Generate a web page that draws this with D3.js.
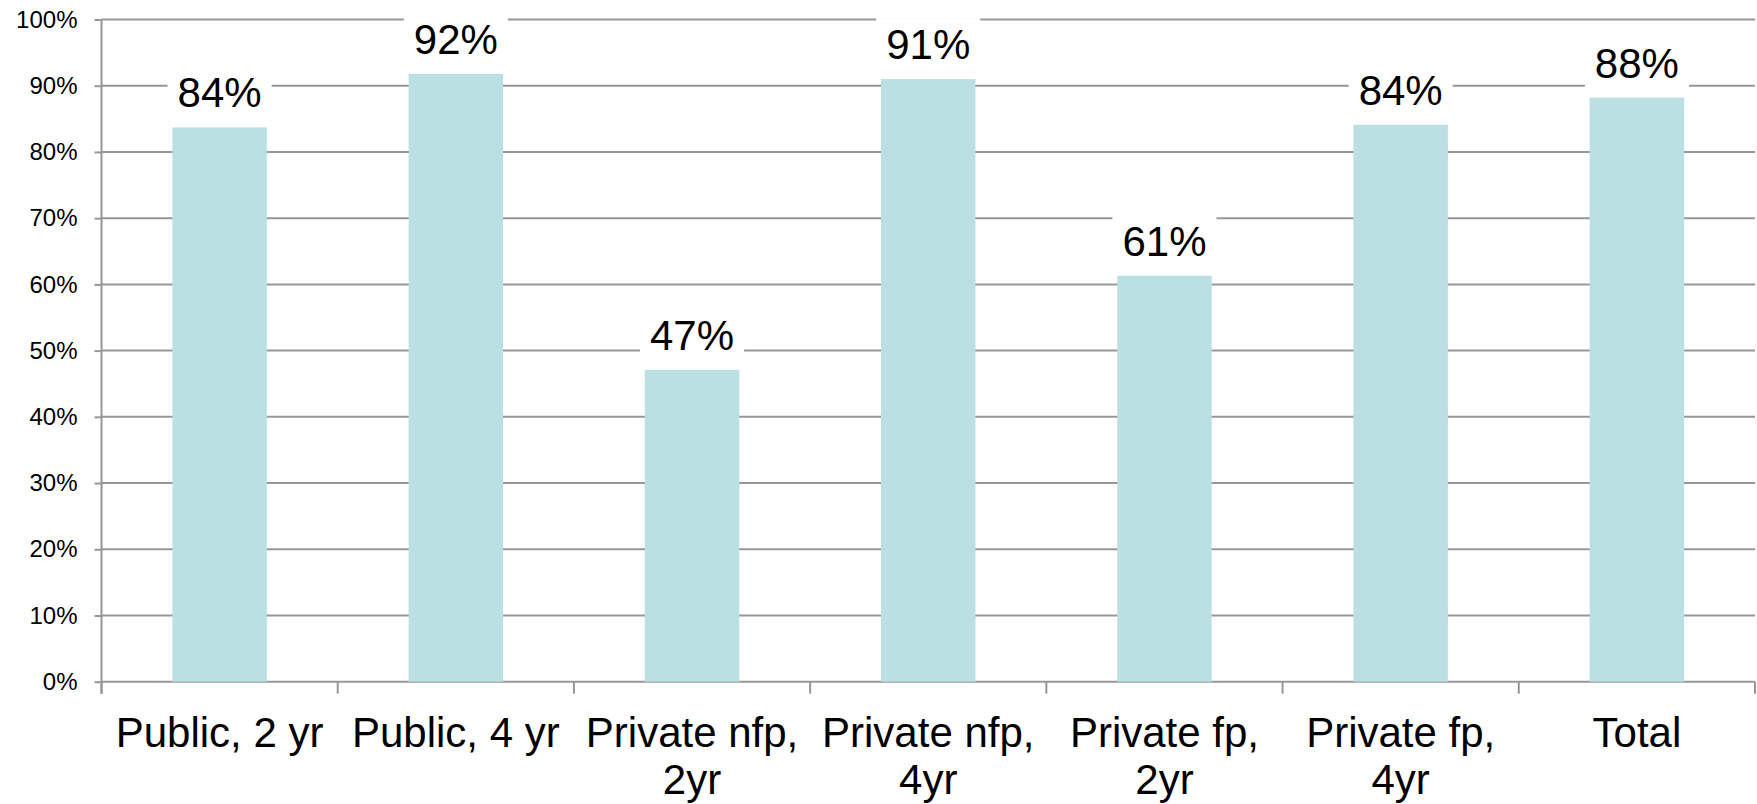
<!DOCTYPE html>
<html>
<head>
<meta charset="utf-8">
<script src="https://cdn.jsdelivr.net/npm/d3@7"></script>
<style>
  body { margin: 0; background: #fff; }
  text { font-family: "Liberation Sans", Arial, sans-serif; fill: #000; }
</style>
</head>
<body>
<script>
const categories = ['Public, 2 yr', 'Public, 4 yr', 'Private nfp, 2yr', 'Private nfp, 4yr', 'Private fp, 2yr', 'Private fp, 4yr', 'Total']
const categoryLines = [['Public, 2 yr'], ['Public, 4 yr'], ['Private nfp,', '2yr'], ['Private nfp,', '4yr'], ['Private fp,', '2yr'], ['Private fp,', '4yr'], ['Total']]
const values = [0.837, 0.918, 0.471, 0.910, 0.613, 0.841, 0.882]
const yTicks = [0, 0.1, 0.2, 0.3, 0.4, 0.5, 0.6, 0.7, 0.8, 0.9, 1.0]

const W = 1757, H = 804
const margin = { top: 19.5, right: 2, bottom: 122.3, left: 101.5 }
const width = W - margin.left - margin.right
const height = H - margin.top - margin.bottom
const gridColor = '#979797'

const svg = d3.select('body').append('svg')
    .attr('width', W)
    .attr('height', H)
    .append('g')
        .attr('transform', `translate(${margin.left}, ${margin.top})`)

const xScale = d3.scaleBand()
    .domain(categories)
    .range([0, width])
    .padding(0)

const yScale = d3.scaleLinear()
    .domain([0, 1])
    .range([height, 0])

// gridlines
svg.append('g')
    .selectAll('line')
    .data(yTicks)
    .enter().append('line')
    .attr('x1', 0)
    .attr('x2', width)
    .attr('y1', d => yScale(d))
    .attr('y2', d => yScale(d))
    .style('stroke', gridColor)
    .style('stroke-width', 2)

// y axis
const yAxis = svg.append('g')
    .attr('class', 'y axis')
    .call(d3.axisLeft(yScale)
        .tickValues(yTicks)
        .tickFormat(d3.format('.0%'))
        .tickSize(7)
        .tickSizeOuter(0)
        .tickPadding(17))
yAxis.select('.domain').remove()
yAxis.selectAll('line').style('stroke', gridColor).style('stroke-width', 2)
yAxis.selectAll('text').style('font-size', '24px').style('font-family', '"Liberation Sans", Arial, sans-serif')

svg.append('line')
    .attr('x1', 0).attr('x2', 0)
    .attr('y1', 0).attr('y2', height + 12)
    .style('stroke', gridColor)
    .style('stroke-width', 2)

// x axis ticks at category boundaries
const edges = categories.map(c => xScale(c)).concat([width])
svg.append('g')
    .selectAll('line')
    .data(edges)
    .enter().append('line')
    .attr('x1', d => d).attr('x2', d => d)
    .attr('y1', height).attr('y2', height + 12)
    .style('stroke', gridColor)
    .style('stroke-width', 2)

// bars
svg.selectAll('.bar')
    .data(values)
    .enter().append('rect')
    .attr('class', 'bar')
    .attr('x', (d, i) => xScale(categories[i]) + xScale.bandwidth() * 0.3)
    .attr('width', xScale.bandwidth() * 0.4)
    .attr('y', d => yScale(d))
    .attr('height', d => height - yScale(d))
    .style('fill', '#bbe0e3')

// value labels with white boxes
const labels = svg.selectAll('.label')
    .data(values)
    .enter().append('g')
    .attr('class', 'label')
    .attr('transform', (d, i) => `translate(${xScale(categories[i]) + xScale.bandwidth() / 2}, ${yScale(d) - 20})`)

labels.append('rect')
    .style('fill', '#fff')

labels.append('text')
    .style('text-anchor', 'middle')
    .style('font-size', '42px')
    .text(d => d3.format('.0%')(d))

labels.each(function () {
    const g = d3.select(this)
    const w = g.select('text').node().getComputedTextLength()
    g.select('rect')
        .attr('x', -w / 2 - 10)
        .attr('width', w + 20)
        .attr('y', -41)
        .attr('height', 51)
})

// category labels
const xLabels = svg.selectAll('.xlabel')
    .data(categoryLines)
    .enter().append('text')
    .attr('class', 'xlabel')
    .style('text-anchor', 'middle')
    .style('font-size', '42px')
    .attr('transform', (d, i) => `translate(${xScale(categories[i]) + xScale.bandwidth() / 2}, ${height + 65})`)

xLabels.selectAll('tspan')
    .data(d => d)
    .enter().append('tspan')
    .attr('x', 0)
    .attr('y', (d, i) => i * 47)
    .text(d => d)
</script>
</body>
</html>
